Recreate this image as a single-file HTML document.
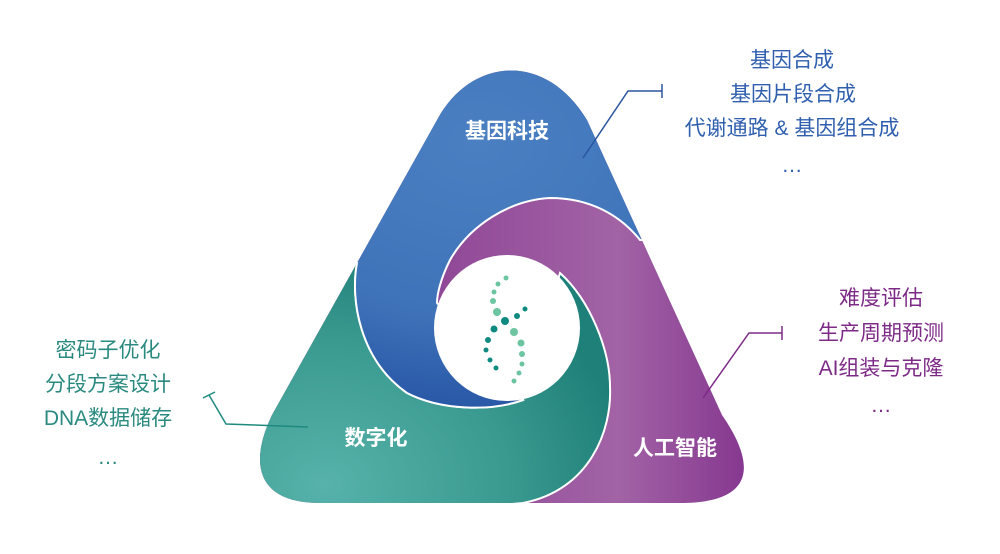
<!DOCTYPE html>
<html><head><meta charset="utf-8">
<style>
html,body{margin:0;padding:0;background:#fff;}
svg{display:block;}
text{font-family:"Liberation Sans","Noto Sans CJK SC",sans-serif;}
</style></head>
<body>
<svg width="1000" height="554" viewBox="0 0 1000 554" xmlns="http://www.w3.org/2000/svg">
<defs>
<clipPath id="tri"><path d="M437,120 C470,58 545,50 587,120 L722,415 C760,470 750,503 680,503 L320,503 C258,503 248,465 272,415 Z"/></clipPath>
<linearGradient id="gp" x1="0" y1="0" x2="1" y2="0"><stop offset="0" stop-color="#7c2a88"/><stop offset="0.7" stop-color="#a263a5"/><stop offset="1" stop-color="#7e2c8a"/></linearGradient>
<radialGradient id="gb" cx="0.45" cy="0.35" r="0.7"><stop offset="0" stop-color="#4a80c2"/><stop offset="0.6" stop-color="#3f73b9"/><stop offset="1" stop-color="#2452a3"/></radialGradient>
<radialGradient id="gt" cx="0.25" cy="0.85" r="0.8"><stop offset="0" stop-color="#56b2aa"/><stop offset="0.6" stop-color="#3a9a90"/><stop offset="1" stop-color="#1f8079"/></radialGradient>
</defs>
<g clip-path="url(#tri)">
<rect x="240" y="40" width="540" height="480" fill="url(#gp)"/>
<path d="M230,230 L357,263 C350,300 360,360 407,393 C440,410 490,412 523,400 L560,273 C590,300 610,350 610,387 C612,430 590,490 523,503 L230,530 Z" fill="url(#gt)" stroke="#fff" stroke-width="2"/>
<path d="M230,0 L780,0 L780,240 L640,240 C620,215 590,198 550,198 C510,200 470,225 450,260 C440,280 437,295 437,303 L523,400 C490,412 440,410 407,393 C360,360 350,300 357,263 L230,263 Z" fill="url(#gb)" stroke="#fff" stroke-width="2"/>
</g>
<circle cx="507" cy="328" r="73" fill="#fff"/>
<g fill="#6cc4a0">
<circle cx="506" cy="278" r="2.5"/><circle cx="498" cy="284" r="2.5"/><circle cx="494" cy="292" r="2.5"/><circle cx="493" cy="301" r="3"/><circle cx="497" cy="312" r="4"/><circle cx="514" cy="332" r="4"/><circle cx="521" cy="343" r="3.5"/><circle cx="522" cy="354" r="3"/><circle cx="522" cy="364" r="2.5"/><circle cx="519" cy="373" r="2.5"/><circle cx="514" cy="381" r="2.5"/>
</g>
<g fill="#0e8a80">
<circle cx="525" cy="309" r="2.5"/><circle cx="517" cy="316" r="3"/><circle cx="505" cy="321" r="4"/><circle cx="494" cy="329" r="3.5"/><circle cx="488" cy="340" r="3"/><circle cx="486" cy="350" r="2.5"/><circle cx="490" cy="360" r="2.5"/><circle cx="496" cy="368" r="2.5"/>
</g>
<g font-weight="bold" fill="#fff" font-size="21" text-anchor="middle">
<text x="507" y="138">基因科技</text>
<text x="376" y="445">数字化</text>
<text x="675" y="455">人工智能</text>
</g>
<polyline points="583,158 628,91 662,91" fill="none" stroke="#2a559f" stroke-width="1.5"/>
<line x1="662" y1="84" x2="662" y2="98" stroke="#2a559f" stroke-width="1.5"/>
<polyline points="703,398 749,333 782,333" fill="none" stroke="#7d2a87" stroke-width="1.5"/>
<line x1="782" y1="326" x2="782" y2="340" stroke="#7d2a87" stroke-width="1.5"/>
<polyline points="209,395 226,424 308,427" fill="none" stroke="#1f8a80" stroke-width="1.5"/>
<line x1="203" y1="398" x2="215" y2="392" stroke="#1f8a80" stroke-width="1.5"/>
<g font-size="21" text-anchor="middle" fill="#2f5fae">
<text x="792" y="67">基因合成</text>
<text x="793" y="101">基因片段合成</text>
<text x="792" y="135">代谢通路 &amp; 基因组合成</text>
<text x="792" y="172">…</text>
</g>
<g font-size="21" text-anchor="middle" fill="#7d2a87">
<text x="881" y="305">难度评估</text>
<text x="881" y="340">生产周期预测</text>
<text x="881" y="375">AI组装与克隆</text>
<text x="881" y="412">…</text>
</g>
<g font-size="21" text-anchor="middle" fill="#2a8a80">
<text x="108" y="357">密码子优化</text>
<text x="108" y="391">分段方案设计</text>
<text x="108" y="425">DNA数据储存</text>
<text x="108" y="464">…</text>
</g>
</svg>
</body></html>
